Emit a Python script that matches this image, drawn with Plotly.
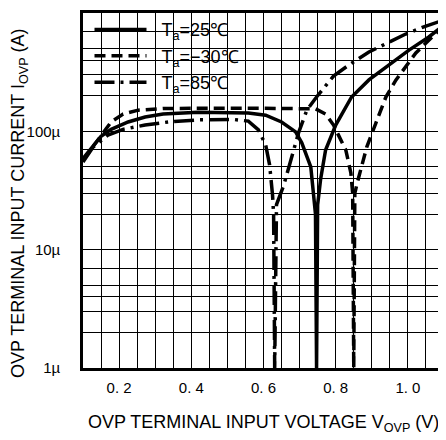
import plotly.graph_objects as go

# Ta = 25 C (solid)
v_25 = [0.100, 0.122, 0.150, 0.178, 0.225, 0.272, 0.322, 0.419, 0.517, 0.558, 0.606, 0.650, 0.689, 0.706,
        0.731, 0.744, 0.747, 0.750, 0.758, 0.772, 0.800, 0.844, 0.892, 0.947, 1.003, 1.058, 1.100]
i_25 = [59e-6, 72e-6, 91e-6, 104e-6, 120e-6, 132e-6, 140e-6, 145e-6, 145e-6, 143e-6, 137e-6, 120e-6, 99e-6, 80e-6,
        50e-6, 20e-6, 1e-6, 24e-6, 39e-6, 69.5e-6, 113e-6, 195e-6, 272e-6, 363e-6, 486e-6, 627e-6, 790e-6]

# Ta = -30 C (dashed)
v_m30 = [0.100, 0.142, 0.178, 0.211, 0.253, 0.322, 0.558, 0.744, 0.772, 0.794, 0.828, 0.842, 0.847, 0.850,
         0.853, 0.860, 0.864, 0.886, 0.911, 0.939, 0.967, 0.994, 1.022, 1.050, 1.078, 1.100]
i_m30 = [57e-6, 84.5e-6, 120e-6, 140e-6, 151e-6, 156e-6, 157e-6, 155e-6, 140e-6, 113e-6, 69.5e-6, 44.5e-6, 30e-6, 1e-6,
         30e-6, 37e-6, 41e-6, 73.6e-6, 117e-6, 195e-6, 272e-6, 350e-6, 460e-6, 557e-6, 677e-6, 760e-6]

# Ta = 85 C (dash-dot)
v_85 = [0.100, 0.128, 0.169, 0.211, 0.272, 0.336, 0.419, 0.517, 0.558, 0.586, 0.606, 0.617, 0.625, 0.628,
        0.631, 0.636, 0.656, 0.678, 0.697, 0.720, 0.747, 0.794, 0.836, 0.892, 0.947, 0.994, 1.050, 1.100]
i_85 = [55e-6, 73.6e-6, 93e-6, 104e-6, 113e-6, 120e-6, 125e-6, 126e-6, 122e-6, 103e-6, 76.6e-6, 51.9e-6, 29e-6, 20e-6,
        1e-6, 24e-6, 35e-6, 60.7e-6, 97e-6, 151e-6, 195e-6, 293e-6, 363e-6, 468e-6, 569e-6, 664e-6, 776e-6, 873e-6]

# axis ticks / grid
x_tickvals = [0.10, 0.15, 0.20, 0.25, 0.30, 0.35, 0.40, 0.45, 0.50, 0.55, 0.60, 0.65,
              0.70, 0.75, 0.80, 0.85, 0.90, 0.95, 1.00, 1.05, 1.10]
x_ticktext = ["", "", "0. 2", "", "", "", "0. 4", "", "", "", "0. 6", "",
              "", "", "0. 8", "", "", "", "1. 0", "", ""]
y_tickvals = [1e-6, 2e-6, 3e-6, 4e-6, 5e-6, 7e-6,
              1e-5, 2e-5, 3e-5, 4e-5, 5e-5, 7e-5,
              1e-4, 2e-4, 3e-4, 4e-4, 5e-4, 7e-4, 1e-3]
y_ticktext = ["1µ", "", "", "", "", "",
              "10µ", "", "", "", "", "",
              "100µ", "", "", "", "", "", "1m"]

FONT = "Liberation Sans, Arial, sans-serif"
SP = "\u00a0\u00a0"

fig = go.Figure()
fig.add_trace(go.Scatter(x=v_25, y=i_25, mode="lines", name=SP + "T<sub>a</sub>=25℃",
                         line=dict(color="black", width=3.5, dash="solid")))
fig.add_trace(go.Scatter(x=v_m30, y=i_m30, mode="lines", name=SP + "T<sub>a</sub>=−30℃",
                         line=dict(color="black", width=3.5, dash="11px,6px")))
fig.add_trace(go.Scatter(x=v_85, y=i_85, mode="lines", name=SP + "T<sub>a</sub>=85℃",
                         line=dict(color="black", width=3.5, dash="20px,6px,3px,6px")))

# white box behind legend (hides grid there)
fig.add_shape(type="rect", xref="paper", yref="paper", x0=0, x1=0.44, y0=0.772, y1=1,
              fillcolor="white", line=dict(width=0), layer="between")

fig.update_xaxes(type="linear", range=[0.1, 1.1], tickmode="array", tickvals=x_tickvals, ticktext=x_ticktext,
                 showgrid=True, gridcolor="black", gridwidth=1.4, zeroline=False, automargin=False,
                 showline=True, linecolor="black", linewidth=2.5, mirror="allticks",
                 ticks="inside", ticklen=4, tickcolor="black", tickwidth=1.4,
                 tickfont=dict(family=FONT, size=15, color="black"), ticklabelstandoff=4)
fig.update_yaxes(type="log", range=[-6, -3], tickmode="array", tickvals=y_tickvals, ticktext=y_ticktext,
                 showgrid=True, gridcolor="black", gridwidth=1.4, zeroline=False, automargin=False,
                 showline=True, linecolor="black", linewidth=2.5, mirror="allticks",
                 ticks="inside", ticklen=4, tickcolor="black", tickwidth=1.4,
                 tickfont=dict(family=FONT, size=15, color="black"), ticklabelstandoff=17)

fig.add_annotation(text="OVP TERMINAL INPUT VOLTAGE V<sub>OVP</sub> (V)", xref="paper", yref="paper",
                   x=0.5, y=-0.155, xanchor="center", yanchor="middle", showarrow=False,
                   font=dict(family=FONT, size=18, color="black"))
fig.add_annotation(text="OVP TERMINAL INPUT CURRENT I<sub>OVP</sub> (A)", xref="paper", yref="paper",
                   x=-0.174, y=0.465, xanchor="center", yanchor="middle", showarrow=False, textangle=-90,
                   font=dict(family=FONT, size=18, color="black"))

fig.update_layout(
    width=438, height=432,
    margin=dict(l=75, r=2, t=5, b=72),
    paper_bgcolor="white", plot_bgcolor="white",
    showlegend=True,
    legend=dict(x=0.018, y=1.005, xanchor="left", yanchor="top", bgcolor="rgba(0,0,0,0)",
                font=dict(family=FONT, size=18, color="black"), itemwidth=52, tracegroupgap=0),
)

fig.write_html("out.html")
